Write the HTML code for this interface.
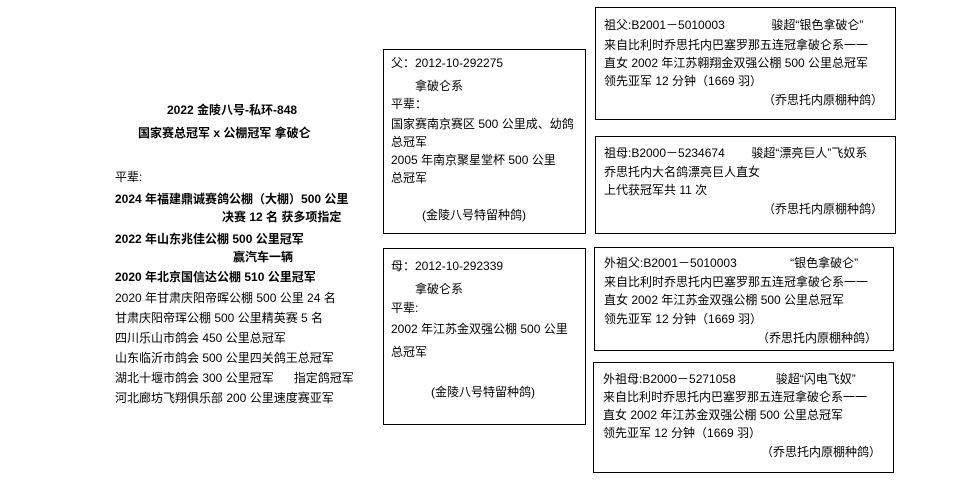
<!DOCTYPE html>
<html><head><meta charset="utf-8"><style>
body{margin:0;width:970px;height:488px;background:#fff;position:relative;overflow:hidden;font-family:"Liberation Sans","Noto Sans CJK SC",sans-serif;font-size:12px;color:#000}
.b{position:absolute;border:1px solid #000;box-sizing:border-box}
.t{position:absolute;white-space:nowrap;line-height:14px}
.bd{font-weight:bold}
</style></head><body>
<div class="t bd" style="left:167px;top:103px">2022 金陵八号-私环-848</div>
<div class="t bd" style="left:138px;top:126px">国家赛总冠军 x 公棚冠军 拿破仑</div>
<div class="t" style="left:115px;top:170px">平辈:</div>
<div class="t bd" style="left:115px;top:192px">2024 年福建鼎诚赛鸽公棚（大棚）500 公里</div>
<div class="t bd" style="left:222px;top:210px">决赛 12 名 获多项指定</div>
<div class="t bd" style="left:115px;top:232px">2022 年山东兆佳公棚 500 公里冠军</div>
<div class="t bd" style="left:233px;top:250px">赢汽车一辆</div>
<div class="t bd" style="left:115px;top:270px">2020 年北京国信达公棚 510 公里冠军</div>
<div class="t" style="left:115px;top:291px">2020 年甘肃庆阳帝晖公棚 500 公里 24 名</div>
<div class="t" style="left:115px;top:311px">甘肃庆阳帝珲公棚 500 公里精英赛 5 名</div>
<div class="t" style="left:115px;top:331px">四川乐山市鸽会 450 公里总冠军</div>
<div class="t" style="left:115px;top:351px">山东临沂市鸽会 500 公里四关鸽王总冠军</div>
<div class="t" style="left:115px;top:371px">湖北十堰市鸽会 300 公里冠军&nbsp;&nbsp;&nbsp;&nbsp;&nbsp;&nbsp;指定鸽冠军</div>
<div class="t" style="left:115px;top:391px">河北廊坊飞翔俱乐部 200 公里速度赛亚军</div>

<div class="b" style="left:383px;top:49px;width:203px;height:185px"></div>
<div class="t" style="left:391px;top:56px">父：2012-10-292275</div>
<div class="t" style="left:415px;top:79px">拿破仑系</div>
<div class="t" style="left:391px;top:97px">平辈：</div>
<div class="t" style="left:391px;top:117px">国家赛南京赛区 500 公里成、幼鸽</div>
<div class="t" style="left:391px;top:135px">总冠军</div>
<div class="t" style="left:391px;top:153px">2005 年南京聚星堂杯 500 公里</div>
<div class="t" style="left:391px;top:171px">总冠军</div>
<div class="t" style="left:422px;top:208px">(金陵八号特留种鸽)</div>

<div class="b" style="left:383px;top:248px;width:203px;height:177px"></div>
<div class="t" style="left:391px;top:259px">母：2012-10-292339</div>
<div class="t" style="left:415px;top:282px">拿破仑系</div>
<div class="t" style="left:391px;top:301px">平辈:</div>
<div class="t" style="left:391px;top:322px">2002 年江苏金双强公棚 500 公里</div>
<div class="t" style="left:391px;top:345px">总冠军</div>
<div class="t" style="left:431px;top:385px">(金陵八号特留种鸽)</div>

<div class="b" style="left:595px;top:7px;width:301px;height:113px"></div>
<div class="t" style="left:604px;top:18px">祖父:B2001－5010003&nbsp;&nbsp;&nbsp;&nbsp;&nbsp;&nbsp;&nbsp;&nbsp;&nbsp;&nbsp;&nbsp;&nbsp;&nbsp;&nbsp;骏超“银色拿破仑”</div>
<div class="t" style="left:604px;top:38px">来自比利时乔思托内巴塞罗那五连冠拿破仑系一一</div>
<div class="t" style="left:604px;top:56px">直女 2002 年江苏翱翔金双强公棚 500 公里总冠军</div>
<div class="t" style="left:604px;top:74px">领先亚军 12 分钟（1669 羽）</div>
<div class="t" style="left:763px;top:93px">（乔思托内原棚种鸽）</div>

<div class="b" style="left:595px;top:136px;width:301px;height:98px"></div>
<div class="t" style="left:604px;top:146px">祖母:B2000－5234674&nbsp;&nbsp;&nbsp;&nbsp;&nbsp;&nbsp;&nbsp;&nbsp;骏超“漂亮巨人”飞奴系</div>
<div class="t" style="left:604px;top:165px">乔思托内大名鸽漂亮巨人直女</div>
<div class="t" style="left:604px;top:183px">上代获冠军共 11 次</div>
<div class="t" style="left:763px;top:202px">（乔思托内原棚种鸽）</div>

<div class="b" style="left:594px;top:247px;width:300px;height:104px"></div>
<div class="t" style="left:604px;top:256px">外祖父:B2001－5010003&nbsp;&nbsp;&nbsp;&nbsp;&nbsp;&nbsp;&nbsp;&nbsp;&nbsp;&nbsp;&nbsp;&nbsp;&nbsp;&nbsp;&nbsp;&nbsp;“银色拿破仑”</div>
<div class="t" style="left:604px;top:275px">来自比利时乔思托内巴塞罗那五连冠拿破仑系一一</div>
<div class="t" style="left:604px;top:293px">直女 2002 年江苏金双强公棚 500 公里总冠军</div>
<div class="t" style="left:604px;top:312px">领先亚军 12 分钟（1669 羽）</div>
<div class="t" style="left:757px;top:331px">（乔思托内原棚种鸽）</div>

<div class="b" style="left:593px;top:362px;width:301px;height:111px"></div>
<div class="t" style="left:603px;top:372px">外祖母:B2000－5271058&nbsp;&nbsp;&nbsp;&nbsp;&nbsp;&nbsp;&nbsp;&nbsp;&nbsp;&nbsp;&nbsp;&nbsp;骏超“闪电飞奴”</div>
<div class="t" style="left:603px;top:390px">来自比利时乔思托内巴塞罗那五连冠拿破仑系一一</div>
<div class="t" style="left:603px;top:408px">直女 2002 年江苏金双强公棚 500 公里总冠军</div>
<div class="t" style="left:603px;top:426px">领先亚军 12 分钟（1669 羽）</div>
<div class="t" style="left:761px;top:445px">（乔思托内原棚种鸽）</div>
</body></html>
